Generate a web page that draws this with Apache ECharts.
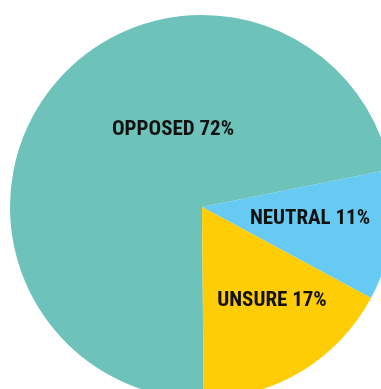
<!DOCTYPE html>
<html lang="en">

<head>
  <meta charset="UTF-8" />
  <title>Opinion pie</title>
  <script src="https://cdn.jsdelivr.net/npm/echarts@6/dist/echarts.min.js"></script>
  <style>
    body,
    html {
      margin: 0;
      padding: 0;
      width: 100%;
      height: 100%;
      overflow: hidden;
      background: #fff;
    }

    #chart {
      width: 381px;
      height: 389px;
    }
  </style>
</head>

<body>
  <div id="chart"></div>
</body>
<script>
  var categories = ['OPPOSED', 'NEUTRAL', 'UNSURE'];
  var values = [72, 11, 17];
  var colors = ['#6dc3ba', '#66caf3', '#fecd05'];
  // where each label sits on the canvas
  var labelPos = [[173, 130], [310, 219], [272, 301]];

  var myChart = echarts.init(document.getElementById('chart'));

  var option = {
    backgroundColor: '#ffffff',
    animation: false,
    series: [{
      type: 'pie',
      center: [202, 207],
      radius: 192,
      startAngle: 270.5,
      clockwise: true,
      silent: true,
      itemStyle: {
        borderWidth: 0
      },
      label: {
        show: true,
        position: 'inside',
        formatter: function (p) {
          return p.name + ' ' + p.value + '%';
        },
        color: '#111111',
        fontFamily: '"Roboto Condensed", "Liberation Sans Narrow", "Arial Narrow", Roboto, sans-serif',
        fontWeight: 'bold',
        fontSize: 21,
        align: 'center',
        verticalAlign: 'middle'
      },
      labelLine: {
        show: false
      },
      labelLayout: function (params) {
        var p = labelPos[params.dataIndex];
        return {
          x: p[0],
          y: p[1]
        };
      },
      data: categories.map(function (name, i) {
        return {
          name: name,
          value: values[i],
          itemStyle: {
            color: colors[i]
          }
        };
      })
    }]
  };
  myChart.setOption(option);
</script>

</html>
